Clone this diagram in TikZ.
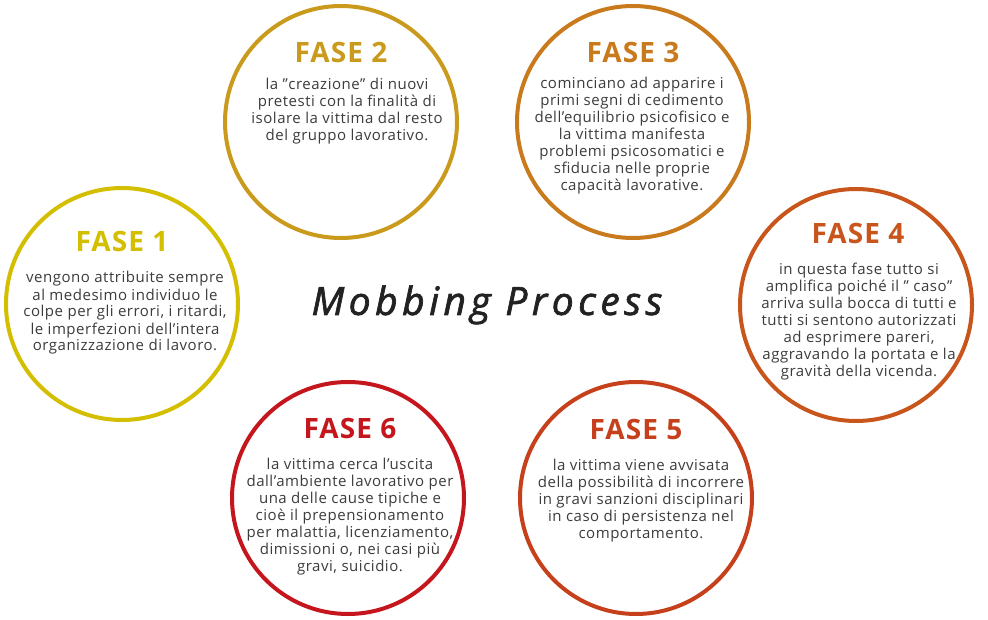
\documentclass[tikz,border=0pt]{standalone}
\usepackage{fontspec}
\setmainfont{Open Sans}
\newfontfamily\bodyfont{Open Sans}[LetterSpace=3.5]
\newfontfamily\headfont{Open Sans}[LetterSpace=4]
\newfontfamily\titlefont{Open Sans}[LetterSpace=11.5,FakeBold=1.8]
\definecolor{c1}{RGB}{212,190,0}
\definecolor{c2}{RGB}{201,154,28}
\definecolor{c3}{RGB}{201,122,28}
\definecolor{c4}{RGB}{200,86,28}
\definecolor{c5}{RGB}{198,64,28}
\definecolor{c6}{RGB}{196,22,28}
\definecolor{txt}{RGB}{60,60,60}
\definecolor{ttl}{RGB}{34,34,34}
\begin{document}
\begin{tikzpicture}[x=1pt,y=-1pt,
  ring/.style={circle,draw=#1,line width=4pt,minimum size=232pt,inner sep=0pt,fill=white},
  head/.style={anchor=base,inner sep=0pt,text=#1,font=\headfont\bfseries\fontsize{28}{30}\selectfont},
  body/.style={anchor=base,inner sep=0pt,align=center,text=txt,font=\bodyfont\fontsize{15}{17}\selectfont}]
\useasboundingbox (0,0) rectangle (988,620);
\fill[white] (0,0) rectangle (988,620);
% circles
\node[ring=c1] (r1) at (122,304) {};
\node[ring=c2] (r2) at (341,122) {};
\node[ring=c3] (r3) at (633,122) {};
\node[ring=c4] (r4) at (856,305) {};
\node[ring=c5] (r5) at (636,498) {};
\node[ring=c6] (r6) at (348,498) {};
% headings
\node[head=c1] (h1) at (122,252) {FASE 1};
\node[head=c2] (h2) at (341,63) {FASE 2};
\node[head=c3] (h3) at (633,63) {FASE 3};
\node[head=c4] (h4) at (858,244) {FASE 4};
\node[head=c5] (h5) at (636,439) {FASE 5};
\node[head=c6] (h6) at (350,438) {FASE 6};
% bodies (anchored at the baseline of the last line)
\node[body] (b1) at (125,351) {vengono attribuite sempre\\al medesimo individuo le\\colpe per gli errori, i ritardi,\\le imperfezioni dell’intera\\organizzazione di lavoro.};
\node[body] (b2) at (347,141) {la ”creazione” di nuovi\\pretesti con la finalità di\\isolare la vittima dal resto\\del gruppo lavorativo.};
\node[body] (b3) at (632,190.5) {cominciano ad apparire i\\primi segni di cedimento\\dell’equilibrio psicofisico e\\la vittima manifesta\\problemi psicosomatici e\\sfiducia nelle proprie\\capacità lavorative.};
\node[body] (b4) at (859,376.5) {in questa fase tutto si\\amplifica poiché il ” caso”\\arriva sulla bocca di tutti e\\tutti si sentono autorizzati\\ad esprimere pareri,\\aggravando la portata e la\\gravità della vicenda.};
\node[body] (b5) at (641,538.3) {la vittima viene avvisata\\della possibilità di incorrere\\in gravi sanzioni disciplinari\\in caso di persistenza nel\\comportamento.};
\node[body] (b6) at (350,571.7) {la vittima cerca l’uscita\\dall’ambiente lavorativo per\\una delle cause tipiche e\\cioè il prepensionamento\\per malattia, licenziamento,\\dimissioni o, nei casi più\\gravi, suicidio.};
% title
\node[anchor=base,inner sep=0pt,text=ttl,font=\titlefont\itshape\fontsize{39}{44}\selectfont] (t) at (487,315) {Mobbing Process};
\end{tikzpicture}
\end{document}
